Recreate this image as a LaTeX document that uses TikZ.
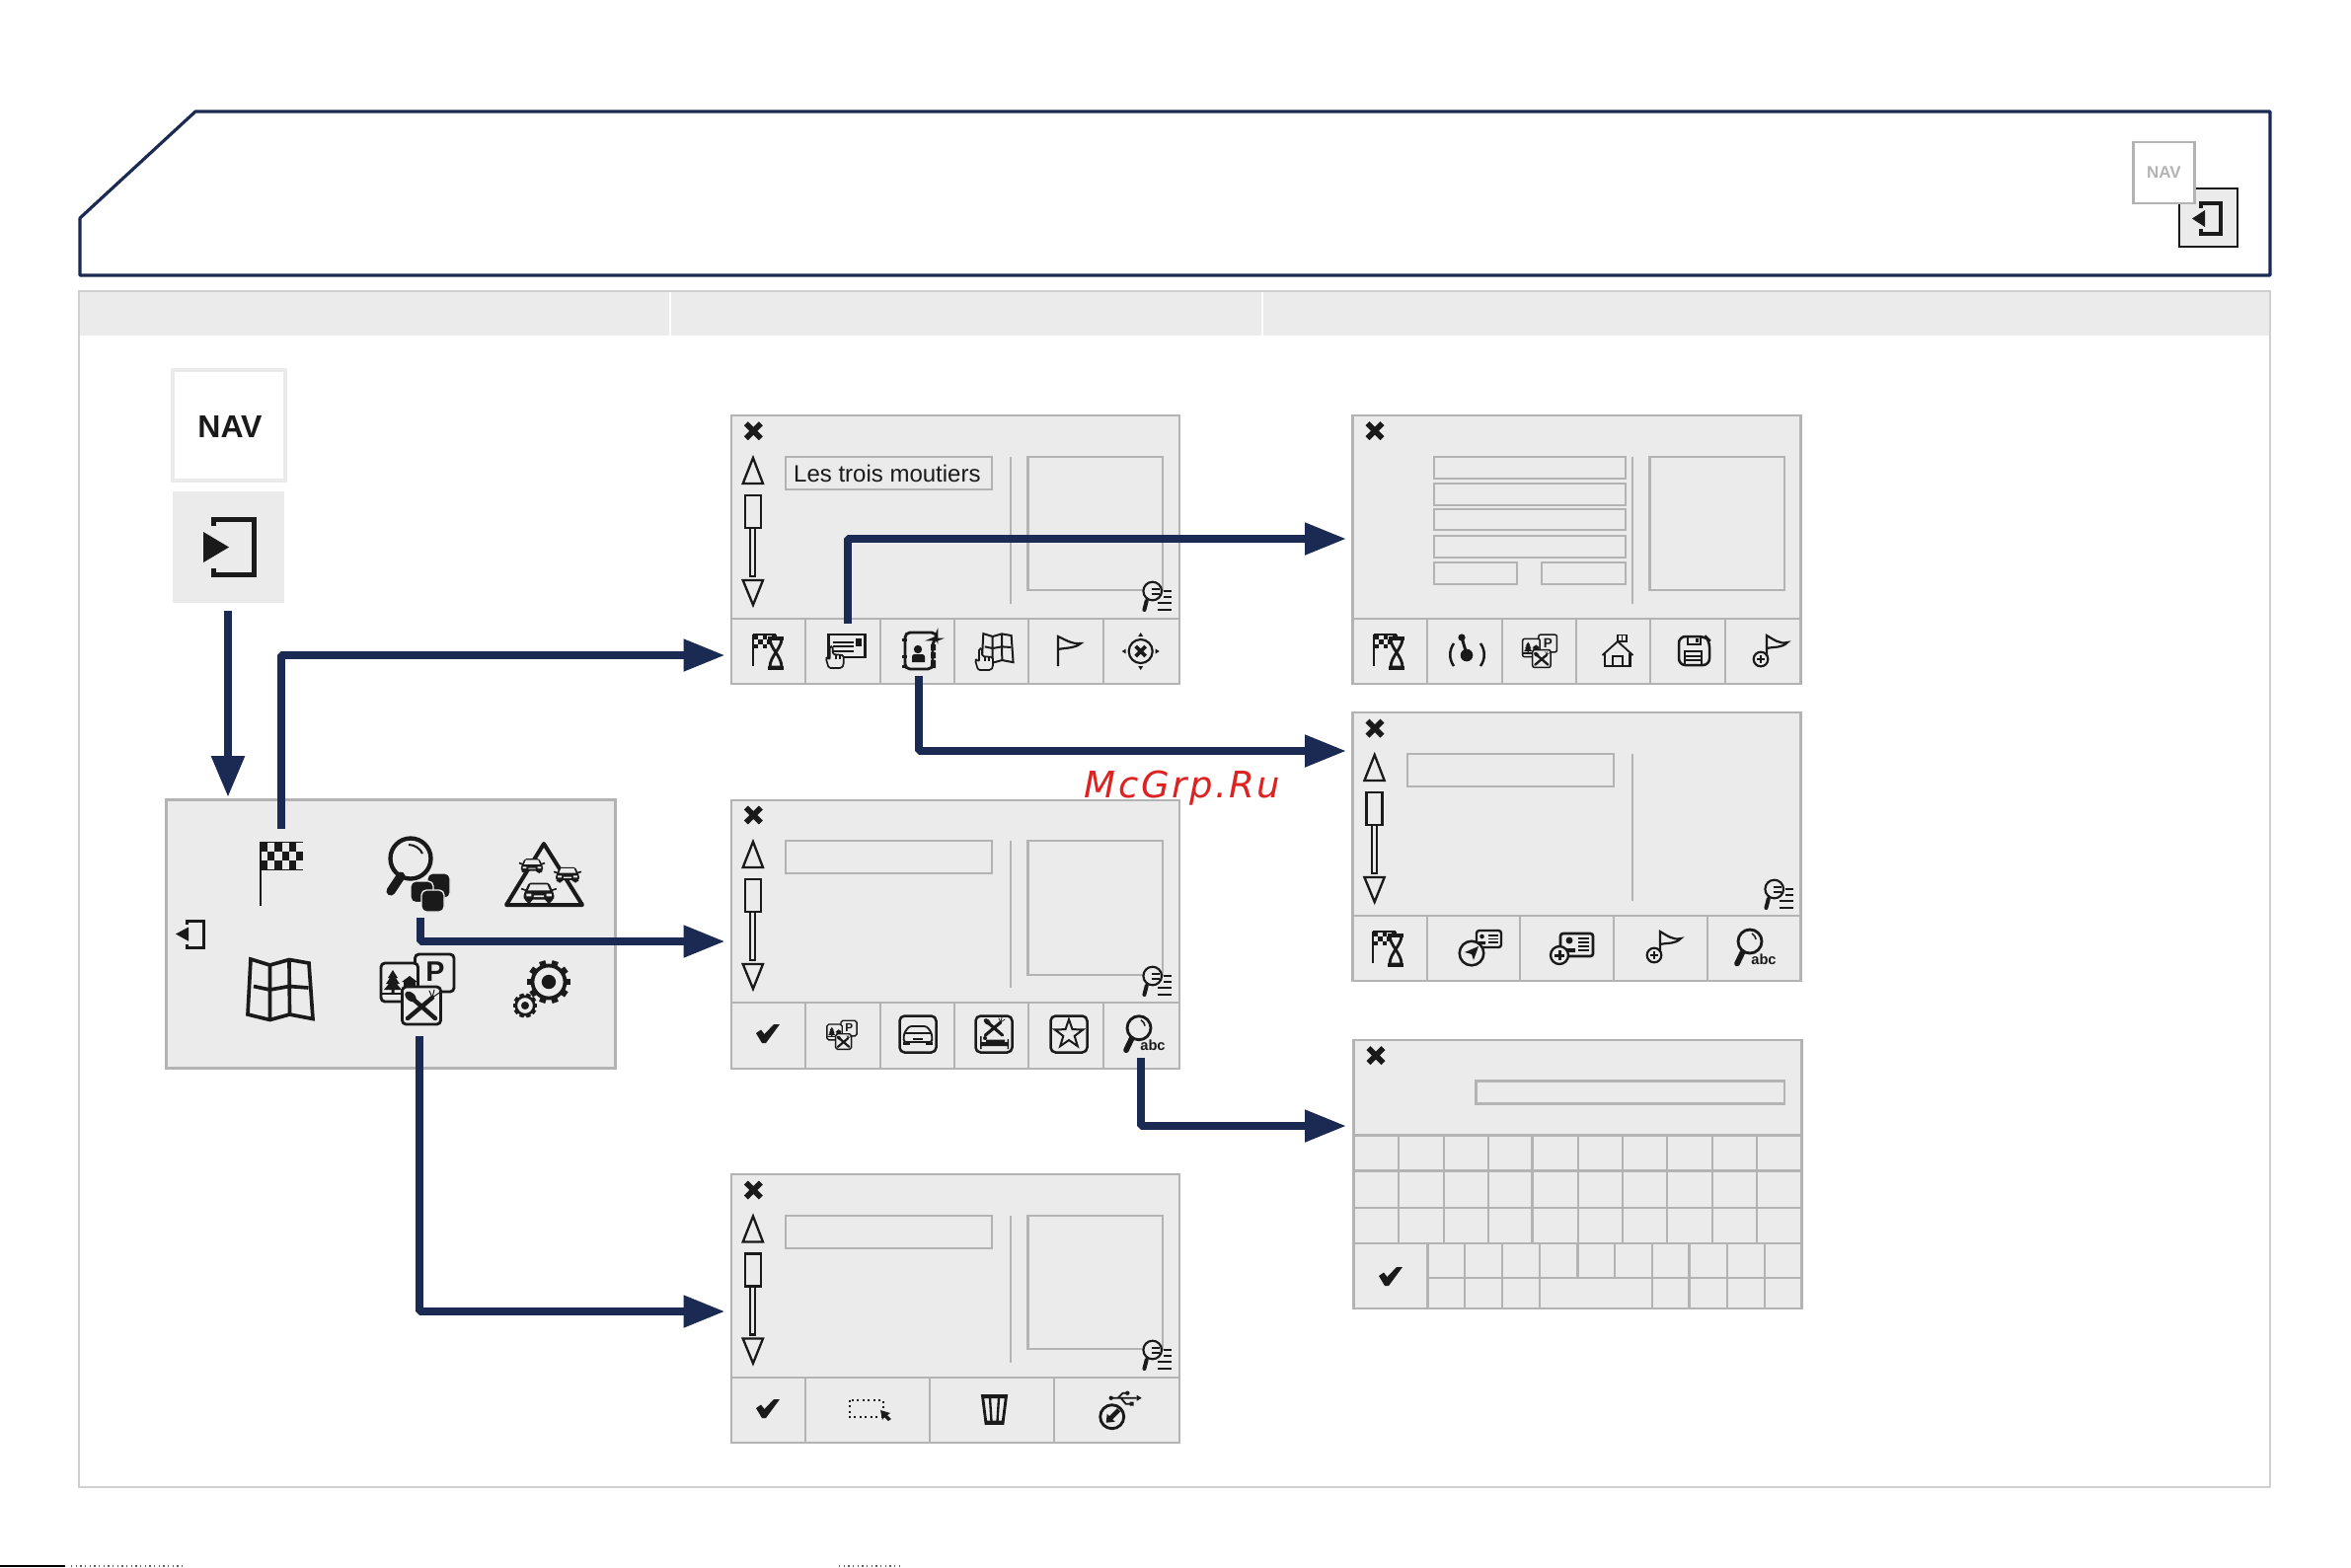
\documentclass[tikz,border=0pt]{standalone}
\usepackage{fontspec}
\setmainfont{Liberation Sans}
\newfontfamily\wmfont[LetterSpace=7]{DejaVu Sans}
\usetikzlibrary{arrows.meta,calc}
\definecolor{navy}{HTML}{1B2A52}
\definecolor{panelc}{HTML}{EBEBEB}
\definecolor{grayl}{HTML}{B3B3B3}
\definecolor{inkc}{HTML}{1A1A1A}
\definecolor{framec}{HTML}{D0D0D0}
\definecolor{wmc}{HTML}{DD2222}
\newcommand{\fs}[1]{\fontsize{#1}{#1}\selectfont}
\tikzset{
 x=.3pt,y=-.3pt,
 gline/.style={draw=grayl,line width=.75pt},
 gbox/.style={draw=grayl,line width=.75pt,fill=panelc,outer sep=0pt},
 ic/.style={draw=inkc,line cap=round},
 icf/.style={fill=inkc,draw=none},
 screenbox/.style={draw=grayl,line width=.85pt,fill=panelc,inner sep=0pt,outer sep=0pt,minimum width=136.2pt,minimum height=81.6pt},
 flow/.style={draw=navy,line width=2.4pt,line join=bevel,-{Triangle[length=12.6pt,width=9.3pt]}},
 pics/closex/.style={code={\draw[draw=inkc,line width=1.7pt] (-7.5,-7.5)--(7.5,7.5) (7.5,-7.5)--(-7.5,7.5);}},
 pics/checkm/.style={code={\fill[inkc] (-12,-1)--(-7,-4.5)--(-3.5,0)--(6,-10)--(12,-10)--(-2,9)--(-6,9)--cycle;}},
 pics/scrollbar/.style={code={
   \draw[draw=inkc,line width=.7pt,line join=miter] (22,43)--(32,69)--(11.7,69)--cycle;
   \draw[draw=inkc,line width=.7pt] (13.7,81) rectangle (29.7,114);
   \draw[draw=inkc,line width=.7pt] (19.3,114) rectangle (24.3,163);
   \draw[draw=inkc,line width=.7pt,line join=miter] (11.7,167)--(32,167)--(22,192)--cycle;
 }},
 pics/minilist/.style={code={
   \draw[draw=inkc,line width=.65pt,fill=panelc] (0,0) circle (9.3);
   \draw[draw=inkc,line width=1.2pt,line cap=round] (-6,10)--(-8.3,19);
   \draw[draw=inkc,line width=.6pt] (11,0)--(19,0) (11,6)--(19,6) (5,12)--(19,12) (5,19)--(19,19);
   \draw[draw=inkc,line width=.8pt] (-1,-2)--(7,-2) (-1,3)--(7,3);
 }},
 pics/hourflag/.style={code={
   \foreach \r in {0,1,2}\foreach \c in {0,...,4}{\pgfmathparse{int(mod(\r+\c,2))}\ifnum\pgfmathresult=0 \fill[inkc] (-16+\c*4.8,-17+\r*4.8) rectangle ++(4.8,4.8);\fi}
   \draw[draw=inkc,line width=.45pt] (-16,-17) -- (7,-17);
   \draw[draw=inkc,line width=.7pt] (-16,-17)--(-16,15);
   \draw[draw=inkc,line width=.85pt,fill=panelc] (1,-13) .. controls (1,-3) and (13,5) .. (13,16) -- (1,16) .. controls (1,5) and (13,-3) .. (13,-13) -- cycle;
   \draw[draw=inkc,line width=1pt] (-1,-13)--(15,-13) (-1,17)--(15,17);
 }},
 pics/handi/.style={code={
   \draw[draw=inkc,line width=.5pt,fill=panelc,line join=round,rounded corners=.5pt] (-6,11)--(-9,1)--(-7,0)--(-5,3)--(-5,-11)--(-2,-11)--(-2,-3)--(9,-2)--(9,8)--(7,11)--cycle;
   \draw[draw=inkc,line width=.5pt] (1,-3)--(1,2) (5,-3)--(5,2);
 }},
 pics/cardhand/.style={code={
   \draw[draw=inkc,line width=.85pt] (-17,-17) rectangle (20,6);
   \draw[draw=inkc,line width=.7pt] (-13,-9)--(8,-9) (-13,-5)--(8,-5) (-13,0)--(8,0);
   \fill[inkc] (10,-13) rectangle (16,-5);
   \pic at (-11,6) {handi};
 }},
 pics/contactbook/.style={code={
   \draw[draw=inkc,line width=.85pt,rounded corners=1.5pt] (-15,-19)--(17,-19)--(17,-12)--(13,-12)--(13,18)--(-15,18)--cycle;
   \draw[draw=inkc,line width=.9pt] (-18,-12)--(-13,-12) (-18,5)--(-13,5) (-18,15)--(-13,15);
   \fill[inkc] (11,-7) rectangle (16,-1) (11,1) rectangle (16,7) (11,9) rectangle (16,17);
   \fill[inkc] (-2,-2) circle (4.2);
   \fill[inkc] (-8,11) -- (-8,5) .. controls (-8,3) and (-6,3) .. (-2,3) .. controls (3,3) and (5,3) .. (5,5) -- (5,11) -- cycle;
 }},
 pics/mapi/.style={code={
   \draw[draw=inkc,line join=miter,fill=panelc] (-41,-31)--(-21.5,-25)--(-2,-30.5)--(18,-27)--(22,29.5)--(-1.5,25)--(-21.5,30.5)--(-44,25)--cycle;
   \draw[draw=inkc] (-21.5,-25)--(-21.5,30.5) (-2,-30.5)--(-1.5,25) (-38,-3.5)--(-21.5,0)--(-2,-3.5)--(17.5,-2);
 }},
 pics/handmap/.style={code={
   \pic[scale=.48,line width=.6pt] at (8,-3) {mapi};
   \pic at (-11,8) {handi};
 }},
 pics/flagsimple/.style={code={
   \draw[draw=inkc,line width=.65pt] (-11,15)--(-11,-15) .. controls (-4,-12) and (3,-7) .. (12,-8) .. controls (6,-3) and (0,-4) .. (-11,-2);
 }},
 pics/targeti/.style={code={
   \draw[draw=inkc,line width=.65pt] (0,0) circle (12);
   \draw[draw=inkc,line width=1.1pt] (-5,-5)--(5,5) (5,-5)--(-5,5);
   \fill[inkc] (0,-19)--(2.5,-15)--(-2.5,-15)--cycle (0,19)--(2.5,15)--(-2.5,15)--cycle (-19,0)--(-15,2.5)--(-15,-2.5)--cycle (19,0)--(15,2.5)--(15,-2.5)--cycle;
 }},
 pics/fsx/.style={code={
   \draw[draw=inkc,line width=1.25\pgflinewidth,line cap=round] (-14,13)--(11,-8) (14,13)--(-9,-7);
   \fill[inkc,shift={(-11,-9)},rotate=-40] (0,0) ellipse (6.5 and 4.2);
   \draw[draw=inkc,line width=.6\pgflinewidth,line cap=round] (11,-8)--(8,-15) (11,-8)--(13,-16) (11,-8)--(18,-13);
 }},
 pics/treehouse/.style={code={
   \fill[inkc] (-7,-13)--(-2,-5)--(-4,-5)--(0,1)--(-3,1)--(2,7)--(-5.5,7)--(-5.5,10)--(-8.5,10)--(-8.5,7)--(-16,7)--(-11,1)--(-14,1)--(-10,-5)--(-12,-5)--cycle;
   \fill[inkc] (2,-1)--(10,-7)--(18,-1)--(16,-1)--(16,7)--(4,7)--(4,-1)--cycle;
   \draw[draw=inkc] (-18,11)--(2,11);
 }},
 pics/poi/.style={code={
   \draw[draw=inkc,fill=panelc,rounded corners=1.4\pgflinewidth] (-2.5,-36) rectangle (37,2);
   \node[inner sep=0,transform shape,font=\bfseries\fs{8.6}\color{inkc}] (poiP) at (18,-18) {P};
   \draw[draw=inkc,fill=panelc,rounded corners=1.4\pgflinewidth] (-37,-27) rectangle (0.5,12);
   \pic[transform shape] at (-18,-7) {treehouse};
   \draw[draw=inkc,fill=panelc,rounded corners=1.4\pgflinewidth] (-15.5,-3) rectangle (23.5,35);
   \pic[transform shape] at (4,16) {fsx};
 }},
 pics/carshape/.style={code={
   \fill[inkc,rounded corners=.5pt] (-16,-2)--(-12,-11)--(12,-11)--(16,-2)--(18,2)--(18,9)--(15,9)--(15,13)--(9,13)--(9,9)--(-9,9)--(-9,13)--(-15,13)--(-15,9)--(-18,9)--(-18,2)--cycle;
   \fill[panelc] (-10,-9)--(10,-9)--(13,-2)--(-13,-2)--cycle;
   \fill[panelc] (-15,2) rectangle (-9,5) (9,2) rectangle (15,5) (-6,4) rectangle (6,6);
   \draw[draw=inkc,line width=.5pt] (-21,-4)--(-15,-2) (21,-4)--(15,-2);
 }},
 pics/carbox/.style={code={
   \draw[draw=inkc,line width=.75pt,rounded corners=1.5pt] (-18.5,-18.5) rectangle (18.5,18.5);
   \draw[draw=inkc,line width=.55pt,rounded corners=.8pt] (-14,-1)--(-9,-8)--(9,-8)--(14,-1)--(14.5,8)--(-14.5,8)--cycle;
   \draw[draw=inkc,line width=.5pt] (-13,-1)--(13,-1) (-5,5)--(5,5) (-14,8)--(-14,10)--(-9,10)--(-9,8) (14,8)--(14,10)--(9,10)--(9,8);
 }},
 pics/foodbed/.style={code={
   \draw[draw=inkc,line width=.75pt,rounded corners=1.5pt] (-18.5,-18.5) rectangle (18.5,18.5);
   \pic[scale=.62,line width=.6pt] at (0,-7) {fsx};
   \fill[inkc] (-14,8) rectangle (15,12) (-14,2) rectangle (-12.5,15) (13.5,5) rectangle (15,15) (-8,5.5) rectangle (11,8);
   \fill[inkc] (-9,4) circle (2);
 }},
 pics/starbox/.style={code={
   \draw[draw=inkc,line width=.75pt,rounded corners=1.5pt] (-18.5,-18.5) rectangle (18.5,18.5);
   \draw[draw=inkc,line width=.6pt,line join=miter] (-90:15)--(-54:6)--(-18:15)--(18:6)--(54:15)--(90:6)--(126:15)--(162:6)--(198:15)--(234:6)--cycle;
 }},
 pics/searchabc/.style={code={
   \draw[draw=inkc,line width=.85pt] (0,0) circle (12);
   \draw[draw=inkc,line width=.45pt] (2,-8) arc (-60:-10:8.5);
   \draw[draw=inkc,line width=1.7pt,line cap=round] (-7.5,11)--(-13,22.5);
   \node[inner sep=0,font=\bfseries\fs{4.4}\color{inkc}] (abc) at (14,18) {abc};
 }},
 pics/joy/.style={code={
   \draw[draw=inkc,line width=.75pt] (-13,-8) .. controls (-18,-1) and (-18,8) .. (-13,15) (14,-8) .. controls (19,-1) and (19,8) .. (14,15);
   \fill[inkc] (-5,-14) circle (3.6);
   \draw[draw=inkc,line width=.9pt] (-5,-14)--(0,3);
   \fill[inkc] (0,4) circle (6.3);
 }},
 pics/househ/.style={code={
   \draw[draw=inkc,line width=.55pt,line join=miter] (-15.5,4)--(0,-10)--(15.5,4);
   \draw[draw=inkc,line width=.7pt] (-13,2)--(-13,15)--(12.5,15)--(12.5,2);
   \draw[draw=inkc,line width=.7pt] (-5,15)--(-5,5)--(5,5)--(5,15);
   \draw[draw=inkc,line width=.5pt] (0,-10)--(0,-16.5)--(9,-16.5)--(9,-10)--(0,-10) (4.5,-16.5)--(4.5,-10);
 }},
 pics/floppy/.style={code={
   \draw[draw=inkc,line width=.75pt,rounded corners=2pt] (-15,-15)--(12,-15)--(16,-11)--(16,14)--(-15,14)--cycle;
   \draw[draw=inkc,line width=.6pt] (-6,-14)--(-6,-7)--(7,-7)--(7,-14);
   \fill[inkc] (2,-13) rectangle (5,-9);
   \draw[draw=inkc,line width=.7pt] (-9,13)--(-9,0)--(8,0)--(8,13) (-9,5)--(8,5) (-9,9)--(8,9);
 }},
 pics/flagplus/.style={code={
   \draw[draw=inkc,line width=.65pt] (-9,8) circle (7.3);
   \draw[draw=inkc,line width=.8pt] (-13,8)--(-5,8) (-9,4)--(-9,12);
   \draw[draw=inkc,line width=.65pt] (-3,5)--(-3,-16) .. controls (4,-12) and (10,-7) .. (18,-9) .. controls (12,-3) and (6,-5) .. (-3,-3);
 }},
 pics/compasscard/.style={code={
   \draw[draw=inkc,line width=.7pt,fill=panelc,rounded corners=.8pt] (-3,-18) rectangle (22,-1);
   \fill[inkc] (2.5,-12) circle (2.3) (-1,-4) -- (-1,-7) -- (6,-7) -- (6,-4) -- cycle;
   \draw[draw=inkc,line width=.45pt] (9,-13)--(19,-13) (9,-9.5)--(19,-9.5) (9,-6)--(19,-6);
   \draw[draw=inkc,line width=.75pt,fill=panelc] (-8,5) circle (12.3);
   \fill[inkc] (-15,4)--(-1,-2)--(-6,12)--(-8,6)--cycle;
 }},
 pics/pluscard/.style={code={
   \draw[draw=inkc,line width=.8pt,rounded corners=.8pt] (-11,-15) rectangle (22,8);
   \fill[inkc] (-2,-8) circle (3.5) (-8,4) -- (-8,0) -- (4,0) -- (4,4) -- cycle;
   \draw[draw=inkc,line width=.45pt] (7,-10)--(18,-10) (7,-6)--(18,-6) (7,-2)--(18,-2) (7,2)--(18,2);
   \draw[draw=inkc,line width=.7pt,fill=panelc] (-12,7) circle (9);
   \draw[draw=inkc,line width=.9pt] (-17,7)--(-7,7) (-12,2)--(-12,12);
 }},
 pics/trash/.style={code={
   \draw[draw=inkc,line width=.85pt,line join=miter] (-12,-14)--(12,-14)--(8.5,14)--(-8.5,14)--cycle;
   \fill[inkc] (-12.5,-15) rectangle (12.5,-11.5) (-8.5,11) rectangle (8.5,15);
   \draw[draw=inkc,line width=.7pt] (-4.5,-12)--(-3,12) (4.5,-12)--(3,12);
 }},
 pics/usbback/.style={code={
   \draw[draw=inkc,line width=.85pt] (0,0) circle (12);
   \draw[draw=inkc,line width=1.4pt] (7,-7)--(-2,2);
   \fill[inkc] (-6,6)--(-5,-3)--(3,5)--cycle;
   \draw[draw=inkc,line width=.55pt] (-1,-19)--(25,-19) (6,-19)--(11,-24)--(15,-24) (9,-19)--(14,-13)--(19,-13);
   \fill[inkc] (-1,-19) circle (2.2) (15.6,-24) circle (2.2) (18,-15) rectangle (22,-11) (30,-19)--(25,-22)--(25,-16)--cycle;
 }},
 pics/gearw/.style={code={
   \foreach \a in {0,36,...,324}{\draw[draw=inkc,line width=1.5\pgflinewidth] (\a:16)--(\a:22);}
   \draw[draw=inkc,line width=1.15\pgflinewidth,fill=panelc] (0,0) circle (16.5);
   \fill[inkc] (0,0) circle (7.2);
 }},
}
\begin{document}
\begin{tikzpicture}
\useasboundingbox (0,0) rectangle (2382,1588);
% header
\draw[draw=navy,line width=.95pt,line join=bevel] (198,113)--(2300,113)--(2300,279)--(81,279)--(81,221)--cycle;
\draw[draw=inkc,line width=.8pt,fill=panelc] (2208,191) rectangle (2267,250);
\draw[draw=inkc,line width=1.05pt] (2230,211)--(2230,206)--(2250,206)--(2250,237)--(2230,237)--(2230,232);
\fill[inkc] (2221,221.5)--(2234,213)--(2234,230)--cycle;
\node[draw=grayl,line width=.85pt,fill=white,minimum width=18.6pt,minimum height=18.6pt,inner sep=0,outer sep=0,font=\bfseries\fs{5.1}\color{grayl}] (navsmall) at (2192.5,175) {NAV};
% main panel
\draw[draw=framec,line width=.7pt,fill=white] (80,295) rectangle (2300,1507);
\fill[panelc] (81,296) rectangle (2299,340);
\draw[draw=white,line width=.6pt] (679,296)--(679,340) (1279,296)--(1279,340);
% left column
\node[draw=panelc,line width=1.2pt,fill=white,minimum width=34.2pt,minimum height=33.6pt,inner sep=0,outer sep=0] (navbig) at (231.5,431) {};
\node[inner sep=0,font=\bfseries\fs{9.6}\color{inkc}] (navtxt) at (233,432) {NAV};
\node[fill=panelc,minimum width=33.9pt,minimum height=33.9pt,inner sep=0,outer sep=0] (retbig) at (231.5,554.5) {};
\draw[draw=inkc,line width=1.5pt] (216.5,533)--(216.5,526.5)--(257.5,526.5)--(257.5,582.5)--(216.5,582.5)--(216.5,576);
\fill[inkc] (232,554.5)--(206,539)--(206,570)--cycle;
% main menu
\node[draw=grayl,line width=.85pt,fill=panelc,minimum width=136.5pt,minimum height=81.6pt,inner sep=0,outer sep=0,anchor=north west] (menu) at (168.7,810.5) {};
\draw[draw=inkc,line width=.9pt] (189,937)--(189,933.5)--(206,933.5)--(206,960.5)--(189,960.5)--(189,957);
\fill[inkc] (178,946.5)--(191,939.5)--(191,953.7)--cycle;
% checker flag
\fill[inkc] (263,853) rectangle (307,881.5);
\foreach \r in {0,1,2}\foreach \c in {0,...,5}{\pgfmathparse{int(mod(\r+\c,2))}\ifnum\pgfmathresult=1 \fill[panelc] (264+\c*7.2,854+\r*9) rectangle ++(7.2,9);\fi}
\draw[draw=inkc,line width=.75pt] (264,853)--(264,918);
% search multi
\draw[draw=inkc,line width=1.3pt,fill=panelc] (416,870) circle (20.5);
\draw[draw=inkc,line width=.6pt] (414,856) .. controls (420,856) and (426,860) .. (428,865);
\draw[draw=inkc,line width=2.7pt,line cap=round] (406,888)--(396,903);
\foreach \xa/\ya/\xb/\yb in {433/885/456/910,416/893/439/914.5,427/902/450/924}
  \draw[draw=panelc,line width=.4pt,fill=inkc,rounded corners=1.5pt] (\xa,\ya) rectangle (\xb,\yb);
% traffic
\draw[draw=inkc,line width=1.2pt,line join=round,line cap=round] (551,855)--(590,917)--(513,917)--cycle;
\pic[scale=.62] at (539,877) {carshape};
\pic[scale=.66] at (575,886) {carshape};
\fill[panelc] (529,902) rectangle (563,914);
\pic[scale=.85] at (546,904) {carshape};
% map
\pic[line width=1.1pt] at (295,1003) {mapi};
% poi
\pic[line width=.85pt] at (423,1003) {poi};
% gears
\pic[line width=.85pt] at (556,995) {gearw};
\pic[scale=.56,line width=.6pt] at (532,1019) {gearw};
% -------- screen 1
\node[screenbox,anchor=north west] (s1) at (741,421) {};
\draw[gline] (741,627)--(1195,627);
\foreach \a in {816,892,967,1042,1118} \draw[gline] (\a,627)--(\a,693);
\pic at (763.3,436.7) {closex};
\pic at (741,421) {scrollbar};
\node[gbox,minimum width=62.7pt,minimum height=9.9pt,inner sep=0,anchor=north west] (f1) at (796,463) {};
\node[anchor=west,inner sep=0,font=\fs{7.2}\color{inkc}] (lestrois) at (803.5,480) {Les trois moutiers};
\draw[gline] (1024,463)--(1024,612);
\draw[gline] (1041.7,463) rectangle (1178,598);
\pic at (1167.7,599) {minilist};
\pic at (779,660) {hourflag};
\pic at (856.7,660) {cardhand};
\pic at (932,660) {contactbook};
\pic at (1008,660) {handmap};
\pic at (1083,660) {flagsimple};
\pic at (1155.7,660) {targeti};
% -------- screen 2
\node[screenbox,anchor=north west] (s2) at (741,811) {};
\draw[gline] (741,1016)--(1195,1016);
\foreach \a in {816,892,967,1042,1118} \draw[gline] (\a,1016)--(\a,1083);
\pic at (763.3,826) {closex};
\pic at (741,810) {scrollbar};
\node[gbox,minimum width=62.7pt,minimum height=9.9pt,inner sep=0,anchor=north west] (f2) at (796,852) {};
\draw[gline] (1024,852)--(1024,1001);
\draw[gline] (1041.7,852) rectangle (1178,988);
\pic at (1167.7,989) {minilist};
\pic at (778,1048) {checkm};
\pic[scale=.41,line width=.42pt] at (853,1049) {poi};
\pic at (930,1048) {carbox};
\pic at (1007,1048) {foodbed};
\pic at (1083,1048) {starbox};
\pic at (1154,1041.7) {searchabc};
% -------- screen 3
\node[screenbox,anchor=north west] (s3) at (741,1190) {};
\draw[gline] (741,1396)--(1195,1396);
\foreach \a in {816,942,1068} \draw[gline] (\a,1396)--(\a,1462);
\pic at (763.3,1206) {closex};
\pic at (741,1189.5) {scrollbar};
\node[gbox,minimum width=62.7pt,minimum height=9.9pt,inner sep=0,anchor=north west] (f3) at (796,1232) {};
\draw[gline] (1024,1232)--(1024,1381);
\draw[gline] (1041.7,1232) rectangle (1178,1367);
\pic at (1167.7,1368) {minilist};
\pic at (778,1428) {checkm};
\draw[draw=inkc,line width=.65pt,densely dotted] (860.7,1418.7) rectangle (894.7,1436.3);
\fill[inkc] (892,1429)--(902,1432)--(899,1434)--(903,1438)--(900,1440)--(896,1436)--(894,1439)--cycle;
\pic at (1007.5,1428.5) {trash};
\pic at (1126.7,1435.7) {usbback};
% -------- screen 4
\node[screenbox,anchor=north west] (s4) at (1370.7,421) {};
\draw[gline] (1371,627)--(1825,627);
\foreach \a in {1446,1522,1597,1672,1748} \draw[gline] (\a,627)--(\a,693);
\pic at (1393,436.7) {closex};
\foreach \ya/\yb in {463/485,490/512,516/537,543/565}
  \draw[gline] (1453,\ya) rectangle (1647,\yb);
\draw[gline] (1453,570) rectangle (1537,592);
\draw[gline] (1562,570) rectangle (1647,592);
\draw[gline] (1654,463)--(1654,612);
\draw[gline] (1671.7,463) rectangle (1808,598);
\pic at (1408,660) {hourflag};
\pic at (1486,660) {joy};
\pic[scale=.47,line width=.45pt] at (1560,660) {poi};
\pic at (1639,660) {househ};
\pic at (1716,660) {floppy};
\pic at (1793,660) {flagplus};
% -------- screen 5
\node[screenbox,anchor=north west] (s5) at (1370.7,722) {};
\draw[gline] (1371,928)--(1825,928);
\foreach \a in {1446,1540,1635,1730} \draw[gline] (\a,928)--(\a,994);
\pic at (1393,738) {closex};
\pic at (1370.7,722) {scrollbar};
\node[gbox,minimum width=62.7pt,minimum height=9.9pt,inner sep=0,anchor=north west] (f5) at (1426,764) {};
\draw[gline] (1654,764)--(1654,913);
\pic at (1797.7,901) {minilist};
\pic at (1407,961) {hourflag};
\pic at (1499,961) {compasscard};
\pic at (1592,961) {pluscard};
\pic at (1685,960) {flagplus};
\pic at (1773,954) {searchabc};
% -------- screen 6 keyboard
\node[screenbox,anchor=north west] (s6) at (1371.7,1054) {};
\pic at (1394,1069.5) {closex};
\draw[gline] (1495.7,1095.7) rectangle (1808,1118.3);
\draw[gline] (1372,1150.7)--(1826,1150.7);
\foreach \y in {1186.7,1224,1260} \draw[gline] (1372,\y)--(1826,\y);
\foreach \a in {1417,1463,1508,1552.7,1599,1644,1689,1735,1780} \draw[gline] (\a,1150.7)--(\a,1260);
\draw[gline] (1446.7,1260)--(1446.7,1326) (1446.7,1295)--(1826,1295);
\foreach \a in {1484,1522,1560,1674,1711.7,1750,1788} \draw[gline] (\a,1260)--(\a,1326);
\foreach \a in {1598.3,1636} \draw[gline] (\a,1260)--(\a,1295);
\pic at (1409,1294) {checkm};
% connectors
\coordinate (navOut) at (231,619);
\coordinate (menuIn) at (231,808);
\coordinate (flagOut) at (285,840);
\coordinate (s1In) at (734.5,664);
\coordinate (searchOut) at (426,930);
\coordinate (s2In) at (734.5,954);
\coordinate (poiOut) at (425,1050);
\coordinate (s3In) at (734.5,1329);
\coordinate (cardOut) at (859,632);
\coordinate (s4In) at (1364,546);
\coordinate (contactOut) at (931,685);
\coordinate (s5In) at (1364,761);
\coordinate (abcOut) at (1156,1072);
\coordinate (s6In) at (1364,1141);
\draw[flow] (flagOut) |- (s1In);
\draw[flow] (searchOut) |- (s2In);
\draw[flow] (poiOut) |- (s3In);
\draw[flow] (cardOut) |- (s4In);
\draw[flow] (contactOut) |- (s5In);
\draw[flow] (abcOut) |- (s6In);
\draw[draw=navy,line width=2.6pt,-{Triangle[length=12.6pt,width=9.6pt]}] (navOut) -- (menuIn);
% watermark
\node[anchor=base west,inner sep=0,font=\wmfont\itshape\fs{11.1}\color{wmc}] (wm) at (1098,808) {McGrp.Ru};
% scan edge at the bottom
\draw[draw=black,line width=.5pt] (0,1587)--(66,1587);
\draw[draw=inkc!70,line width=.4pt,densely dotted] (72,1587)--(185,1587) (850,1587)--(912,1587);
\end{tikzpicture}
\end{document}
